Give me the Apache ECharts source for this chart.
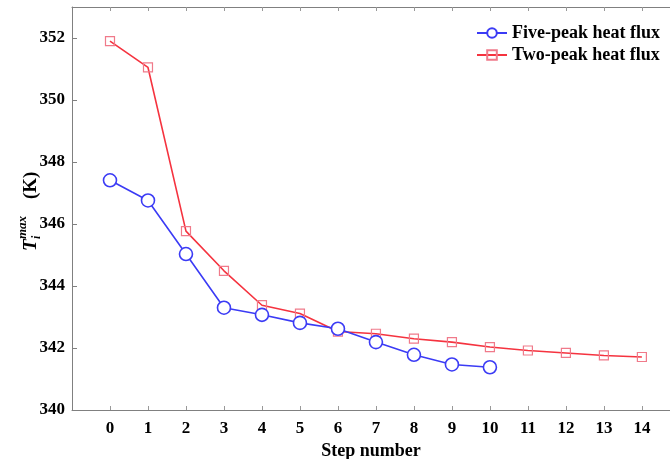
<!DOCTYPE html>
<html>
<head>
<meta charset="utf-8">
<script src="https://cdn.jsdelivr.net/npm/echarts@6/dist/echarts.min.js"></script>
<style>html,body{margin:0;padding:0;background:#fff}#c{width:670px;height:459px}</style>
</head>
<body>
<div id="c"></div>
<script>
var steps = [0,1,2,3,4,5,6,7,8,9,10,11,12,13,14];
var fivePeak = [347.41,346.76,345.03,343.30,343.07,342.81,342.62,342.19,341.78,341.47,341.38];
var twoPeak = [351.90,351.05,345.77,344.49,343.38,343.11,342.53,342.46,342.30,342.19,342.03,341.92,341.84,341.76,341.71];
var yTicks = [340,342,344,346,348,350,352];
var seriesNames = ['Five-peak heat flux','Two-peak heat flux'];

var font = 'Liberation Serif';
function pairs(vals){ return vals.map(function(v,i){ return [steps[i], v]; }); }

var chart = echarts.init(document.getElementById('c'));
chart.setOption({
  animation:false,
  backgroundColor:'#fff',
  grid:{left:72, right:0, top:7, bottom:49, outerBoundsMode:'none', containLabel:false},
  legend:{
    orient:'vertical', right:5, top:19, itemGap:4, itemWidth:30, itemHeight:12,
    textStyle:{fontFamily:font, fontWeight:'bold', fontSize:18, color:'#000'},
    data:seriesNames
  },
  xAxis:[{
    type:'value', min:-1, max:14.74,
    axisLine:{onZero:false, lineStyle:{color:'#808080', width:1}},
    axisTick:{inside:true, length:4, lineStyle:{color:'#999'}, customValues:steps},
    axisLabel:{customValues:steps, fontFamily:font, fontWeight:'bold', fontSize:17, color:'#000', margin:10},
    splitLine:{show:false},
    name:'Step number', nameLocation:'middle', nameGap:26,
    nameTextStyle:{fontFamily:font, fontWeight:'bold', fontSize:18, color:'#000'}
  },{
    type:'value', position:'top', min:-1, max:14.74,
    axisLine:{show:true, onZero:false, lineStyle:{color:'#808080', width:1}},
    axisTick:{inside:true, length:4, lineStyle:{color:'#999'}, customValues:steps},
    axisLabel:{show:false},
    splitLine:{show:false}
  }],
  yAxis:{
    type:'value', min:340, max:353,
    axisLine:{show:true, onZero:false, lineStyle:{color:'#808080', width:1}},
    axisTick:{inside:true, length:5, lineStyle:{color:'#808080'}, customValues:yTicks},
    axisLabel:{customValues:yTicks, fontFamily:font, fontWeight:'bold', fontSize:17, color:'#000', margin:7},
    splitLine:{show:false}
  },
  graphic:[{
    type:'group', x:31, y:251, rotation:Math.PI/2,
    children:[
      {type:'text', x:0, y:0, style:{text:'T', font:'italic bold 19px "Liberation Serif"', fill:'#000', verticalAlign:'middle'}},
      {type:'text', x:12, y:-8, style:{text:'max', font:'italic bold 13px "Liberation Serif"', fill:'#000', verticalAlign:'middle'}},
      {type:'text', x:12, y:6, style:{text:'i', font:'italic bold 12px "Liberation Serif"', fill:'#000', verticalAlign:'middle'}},
      {type:'text', x:52, y:0, style:{text:'(K)', font:'bold 19px "Liberation Serif"', fill:'#000', verticalAlign:'middle'}}
    ]
  }],
  series:[{
    name:seriesNames[0], type:'line', data:pairs(fivePeak),
    symbol:'circle', symbolSize:13,
    lineStyle:{color:'#3b3bf5', width:1.6},
    itemStyle:{color:'#fff', borderColor:'#3b3bf5', borderWidth:1.6},
    z:3
  },{
    name:seriesNames[1], type:'line', data:pairs(twoPeak),
    symbol:'rect', symbolSize:9,
    lineStyle:{color:'#f5333f', width:1.6},
    itemStyle:{color:'transparent', borderColor:'#f07a8a', borderWidth:1.2},
    z:2
  }]
});
</script>
</body>
</html>
